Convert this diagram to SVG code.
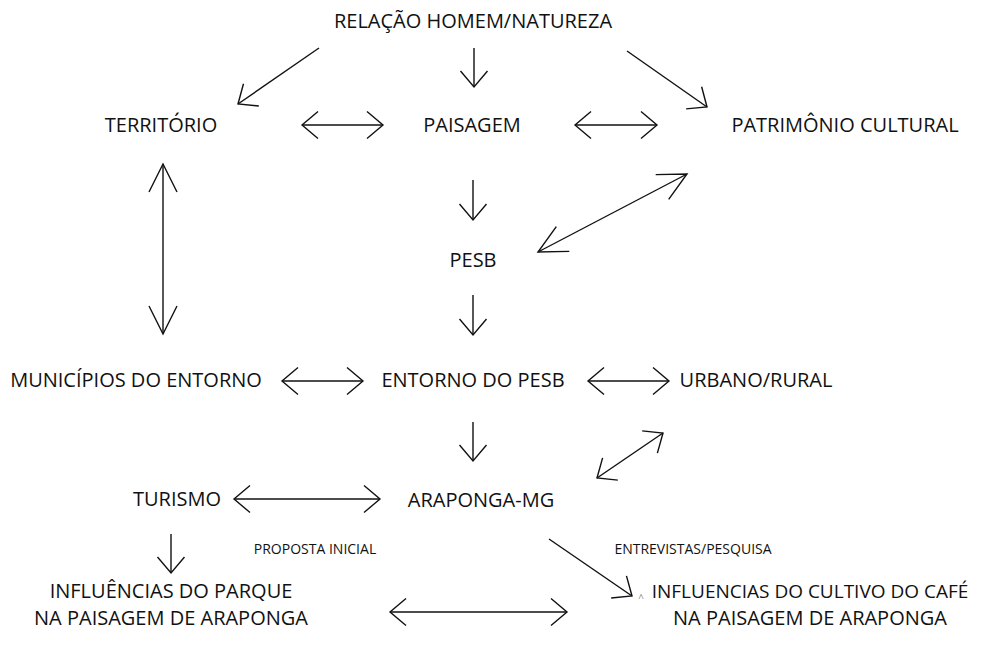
<svg xmlns="http://www.w3.org/2000/svg" width="1002" height="646" viewBox="0 0 1002 646">
<style>
text{font-family:"Open Sans","Noto Sans","Liberation Sans",sans-serif;fill:#111;text-anchor:middle}
.t{font-size:20px}
.t2{font-size:19px}
.s{font-size:14px}
.c{font-size:10px;fill:#888}
.ln{fill:none;stroke:#111;stroke-width:1.4}
</style>
<defs>
<marker id="ah" viewBox="-30 -20 40 40" markerWidth="40" markerHeight="40" refX="0" refY="0" orient="auto-start-reverse" markerUnits="userSpaceOnUse">
<path d="M-16,-13.5 L0,0 L-16,13.5" fill="none" stroke="#111" stroke-width="1.4"/>
</marker>
<marker id="ahL" viewBox="-35 -20 40 40" markerWidth="40" markerHeight="40" refX="0" refY="0" orient="auto-start-reverse" markerUnits="userSpaceOnUse">
<path d="M-28,-14 L0,0 L-28,14" fill="none" stroke="#111" stroke-width="1.4"/>
</marker>
</defs>
<rect width="1002" height="646" fill="#fff"/>
<g id="connectors">
<line class="ln" x1="319" y1="48" x2="238" y2="104" marker-end="url(#ah)"/>
<line class="ln" x1="474" y1="48" x2="474" y2="87" marker-end="url(#ah)"/>
<line class="ln" x1="627" y1="51" x2="707" y2="107" marker-end="url(#ah)"/>
<line class="ln" x1="302" y1="125" x2="383" y2="125" marker-start="url(#ah)" marker-end="url(#ah)"/>
<line class="ln" x1="575" y1="125" x2="657" y2="125" marker-start="url(#ah)" marker-end="url(#ah)"/>
<line class="ln" x1="473" y1="180" x2="473" y2="220" marker-end="url(#ah)"/>
<line class="ln" x1="687" y1="174" x2="538" y2="252" marker-start="url(#ahL)" marker-end="url(#ahL)"/>
<line class="ln" x1="163" y1="164" x2="163" y2="334" marker-start="url(#ahL)" marker-end="url(#ahL)"/>
<line class="ln" x1="473" y1="295" x2="473" y2="335" marker-end="url(#ah)"/>
<line class="ln" x1="282" y1="381" x2="363" y2="381" marker-start="url(#ah)" marker-end="url(#ah)"/>
<line class="ln" x1="588" y1="381" x2="669" y2="381" marker-start="url(#ah)" marker-end="url(#ah)"/>
<line class="ln" x1="473" y1="422" x2="473" y2="461" marker-end="url(#ah)"/>
<line class="ln" x1="663" y1="433" x2="597" y2="478" marker-start="url(#ah)" marker-end="url(#ah)"/>
<line class="ln" x1="234" y1="499" x2="380" y2="499" marker-start="url(#ah)" marker-end="url(#ah)"/>
<line class="ln" x1="171" y1="534" x2="171" y2="573" marker-end="url(#ah)"/>
<line class="ln" x1="549" y1="539" x2="632" y2="596" marker-end="url(#ah)"/>
<line class="ln" x1="390" y1="612" x2="567" y2="612" marker-start="url(#ah)" marker-end="url(#ah)"/>
</g>
<g id="n-relacao"><text class="t" x="473" y="28">RELAÇÃO HOMEM/NATUREZA</text></g>
<g id="n-territorio"><text class="t" x="161" y="132">TERRITÓRIO</text></g>
<g id="n-paisagem"><text class="t" x="472" y="132">PAISAGEM</text></g>
<g id="n-patrimonio"><text class="t" x="845" y="132">PATRIMÔNIO CULTURAL</text></g>
<g id="n-pesb"><text class="t" x="473" y="267">PESB</text></g>
<g id="n-municipios"><text class="t" x="136" y="387">MUNICÍPIOS DO ENTORNO</text></g>
<g id="n-entorno"><text class="t" x="473" y="387">ENTORNO DO PESB</text></g>
<g id="n-urbano"><text class="t" x="756" y="387">URBANO/RURAL</text></g>
<g id="n-turismo"><text class="t" x="177" y="506">TURISMO</text></g>
<g id="n-araponga"><text class="t" x="481" y="507">ARAPONGA-MG</text></g>
<g id="l-proposta"><text class="s" x="315" y="554">PROPOSTA INICIAL</text></g>
<g id="l-entrevistas"><text class="s" x="693" y="554">ENTREVISTAS/PESQUISA</text></g>
<g id="n-parque"><text class="t" x="171" y="598">INFLUÊNCIAS DO PARQUE</text><text class="t" x="171" y="625">NA PAISAGEM DE ARAPONGA</text></g>
<g id="n-cafe"><text class="c" x="641" y="602">^</text><text class="t2" x="810" y="598">INFLUENCIAS DO CULTIVO DO CAFÉ</text><text class="t" x="810" y="625">NA PAISAGEM DE ARAPONGA</text></g>
</svg>
